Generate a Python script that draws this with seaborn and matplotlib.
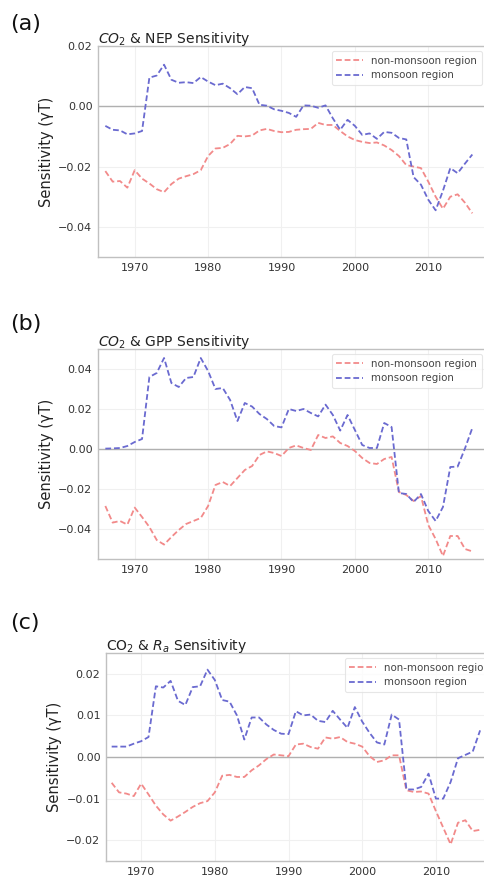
import numpy as np
import pandas as pd
import matplotlib
matplotlib.use("Agg")
import matplotlib.pyplot as plt
import seaborn as sns

years = list(range(1966, 2017))

nep_non_monsoon = [-0.0215, -0.0250, -0.0248, -0.0270, -0.0212, -0.0240, -0.0256, -0.0275, -0.0285, -0.0258,
                   -0.0240, -0.0232, -0.0225, -0.0212, -0.0165, -0.0140, -0.0138, -0.0125, -0.0098, -0.0100,
                   -0.0097, -0.0080, -0.0075, -0.0082, -0.0086, -0.0085, -0.0078, -0.0076, -0.0075, -0.0055,
                   -0.0062, -0.0062, -0.0082, -0.0100, -0.0112, -0.0118, -0.0122, -0.0120, -0.0130, -0.0145,
                   -0.0165, -0.0195, -0.0200, -0.0205, -0.0250, -0.0300, -0.0340, -0.0300, -0.0292, -0.0320,
                   -0.0355]
nep_monsoon = [-0.0065, -0.0078, -0.0080, -0.0093, -0.0090, -0.0082, 0.0095, 0.0102, 0.0138, 0.0088,
               0.0078, 0.0080, 0.0077, 0.0097, 0.0082, 0.0070, 0.0075, 0.0060, 0.0040, 0.0064,
               0.0060, 0.0005, 0.0002, -0.0010, -0.0015, -0.0022, -0.0035, 0.0003, 0.0002, -0.0005,
               0.0003, -0.0040, -0.0078, -0.0045, -0.0065, -0.0095, -0.0090, -0.0108, -0.0085, -0.0088,
               -0.0105, -0.0110, -0.0235, -0.0260, -0.0310, -0.0345, -0.0280, -0.0205, -0.0222, -0.0190,
               -0.0160]

gpp_non_monsoon = [-0.0285, -0.0368, -0.0360, -0.0378, -0.0293, -0.0340, -0.0390, -0.0455, -0.0478, -0.0440,
                   -0.0405, -0.0375, -0.0360, -0.0345, -0.0285, -0.0180, -0.0165, -0.0185, -0.0145, -0.0105,
                   -0.0085, -0.0030, -0.0012, -0.0020, -0.0035, 0.0005, 0.0018, 0.0005, -0.0005, 0.0070,
                   0.0055, 0.0063, 0.0030, 0.0015, -0.0010, -0.0045, -0.0070, -0.0075, -0.0050, -0.0040,
                   -0.0215, -0.0230, -0.0260, -0.0235, -0.0380, -0.0450, -0.0535, -0.0435, -0.0435, -0.0500,
                   -0.0512]
gpp_monsoon = [0.0002, 0.0003, 0.0005, 0.0015, 0.0035, 0.0050, 0.0360, 0.0380, 0.0455, 0.0330,
               0.0310, 0.0355, 0.0360, 0.0455, 0.0390, 0.0300, 0.0305, 0.0245, 0.0140, 0.0230,
               0.0212, 0.0175, 0.0150, 0.0115, 0.0108, 0.0200, 0.0190, 0.0200, 0.0180, 0.0163,
               0.0222, 0.0170, 0.0092, 0.0170, 0.0095, 0.0020, 0.0005, 0.0005, 0.0130, 0.0110,
               -0.0220, -0.0225, -0.0265, -0.0225, -0.0310, -0.0360, -0.0290, -0.0090, -0.0088, 0.0003,
               0.0105]

ra_non_monsoon = [-0.0062, -0.0085, -0.0088, -0.0094, -0.0064, -0.0090, -0.0117, -0.0138, -0.0153, -0.0143,
                  -0.0132, -0.0120, -0.0111, -0.0106, -0.0085, -0.0045, -0.0043, -0.0048, -0.0048, -0.0032,
                  -0.0020, -0.0005, 0.0006, 0.0004, 0.0002, 0.0030, 0.0032, 0.0024, 0.0020, 0.0047,
                  0.0044, 0.0048, 0.0036, 0.0032, 0.0025, 0.0002, -0.0012, -0.0008, 0.0004, 0.0004,
                  -0.0080, -0.0084, -0.0083, -0.0088, -0.0130, -0.0170, -0.0210, -0.0158, -0.0152, -0.0178,
                  -0.0175]
ra_monsoon = [0.0025, 0.0025, 0.0025, 0.0032, 0.0038, 0.0048, 0.0170, 0.0167, 0.0183, 0.0135,
              0.0125, 0.0168, 0.0170, 0.0210, 0.0185, 0.0137, 0.0133, 0.0100, 0.0042, 0.0095,
              0.0095, 0.0078, 0.0065, 0.0056, 0.0055, 0.0110, 0.0100, 0.0102, 0.0087, 0.0084,
              0.0111, 0.0090, 0.0070, 0.0120, 0.0085, 0.0058, 0.0035, 0.0030, 0.0102, 0.0090,
              -0.0078, -0.0078, -0.0072, -0.0040, -0.0100, -0.0100, -0.0060, -0.0003, 0.0005, 0.0013,
              0.0064]

panel_labels = ["(a)", "(b)", "(c)"]
titles = ["$CO_2$ & NEP Sensitivity", "$CO_2$ & GPP Sensitivity", "CO$_2$ & $R_a$ Sensitivity"]
series_names = ["non-monsoon region", "monsoon region"]
xticks = [1970, 1980, 1990, 2000, 2010]
yticks = [[0.02, 0.00, -0.02, -0.04], [0.04, 0.02, 0.00, -0.02, -0.04], [0.02, 0.01, 0.00, -0.01, -0.02]]
ylims = [(-0.05, 0.02), (-0.055, 0.05), (-0.025, 0.025)]
xlims = [(1965, 2018), (1965, 2018), (1965.23, 2018.7)]
data = [(nep_non_monsoon, nep_monsoon), (gpp_non_monsoon, gpp_monsoon), (ra_non_monsoon, ra_monsoon)]

sns.set_style("whitegrid")
plt.rcParams['font.family'] = ['DejaVu Sans']

W, H = 485, 882
fig = plt.figure(figsize=(W / 100, H / 100), dpi=100)

# axes boxes in pixels: left, top, right, bottom
boxes = [(98, 46, 487, 257), (98, 349, 487, 559), (106, 653, 500, 861)]
label_tops = [14, 314, 613]
colors = {"non-monsoon region": "#f28a8a", "monsoon region": "#6a6ad0"}

for i, (box, (nm, m)) in enumerate(zip(boxes, data)):
    l, t, r, b = box
    ax = fig.add_axes([l / W, 1 - b / H, (r - l) / W, (b - t) / H])
    df = pd.DataFrame({
        "year": years * 2,
        "value": list(nm) + list(m),
        "region": [series_names[0]] * len(years) + [series_names[1]] * len(years),
    })
    sns.lineplot(data=df, x="year", y="value", hue="region", palette=colors,
                 ax=ax, linestyle="--", linewidth=1.3, dashes=False)
    for line in ax.get_lines():
        line.set_linestyle((0, (3.2, 1.6)))
    ax.axhline(0, color="#b0b0b0", linewidth=1.0, zorder=1)
    ax.set_xlim(*xlims[i])
    ax.set_ylim(*ylims[i])
    ax.set_xticks(xticks)
    ax.set_yticks(yticks[i])
    ax.set_yticklabels([f"{v:.2f}".replace("-", "\u2212") for v in yticks[i]])
    ax.grid(True, color="#f0f0f0", linewidth=0.8)
    for s in ax.spines.values():
        s.set_color("#c0c0c0")
        s.set_linewidth(1.0)
    ax.tick_params(axis="both", labelsize=8, colors="#333333", length=0, pad=4)
    ax.set_xlabel("")
    ax.set_ylabel("Sensitivity (γT)", fontsize=10.5, color="#222222", labelpad=3)
    ax.set_title(titles[i], loc="left", fontsize=10, color="#222222", pad=2)
    leg = ax.legend(loc="upper right", fontsize=7.4, frameon=True, handlelength=2.6,
                    handletextpad=0.8, borderpad=0.45, labelspacing=0.45)
    leg.get_frame().set_edgecolor("#e0e0e0")
    leg.get_frame().set_linewidth(0.8)
    for h in leg.get_lines():
        h.set_linestyle((0, (3.2, 1.6)))
    for txt in leg.get_texts():
        txt.set_color("#444444")
    fig.text(10 / W, 1 - label_tops[i] / H, panel_labels[i], fontsize=16, color="#111111",
             ha="left", va="top")

fig.savefig("out.png", dpi=100)
